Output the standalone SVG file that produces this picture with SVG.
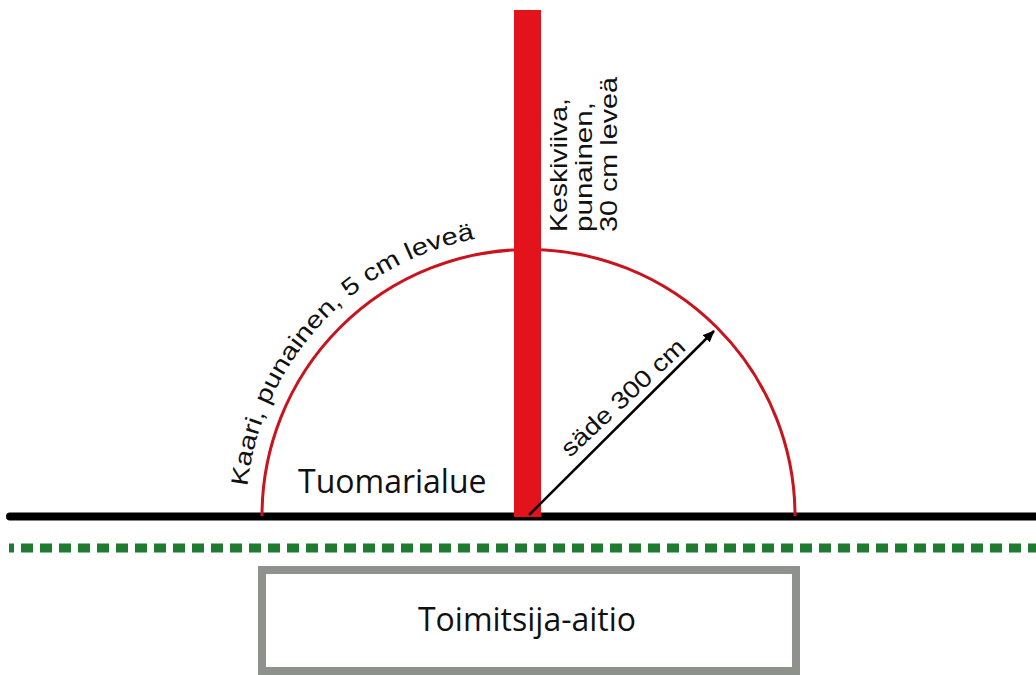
<svg xmlns="http://www.w3.org/2000/svg" width="1036" height="675" viewBox="0 0 1036 675">
<defs>
<style>
.lbl{font-family:"Liberation Sans",Arial,sans-serif;font-size:24px;fill:#111}
.big{font-family:"Open Sans","Noto Sans",sans-serif;font-size:32px;fill:#111}
</style>
<marker id="ah" markerWidth="12" markerHeight="10" refX="11" refY="5" orient="auto" markerUnits="userSpaceOnUse">
<path d="M0,0 L12,5 L0,10 Z" fill="#000"/>
</marker>
<path id="arcText" d="M 247.5 486.5 A 282 282 0 0 1 528 234"/>
</defs>
<rect width="1036" height="675" fill="#fff"/>
<g id="floor">
<line x1="10" y1="516.5" x2="1036" y2="516.5" stroke="#000" stroke-width="8" stroke-linecap="round"/>
<line x1="9" y1="548" x2="1036" y2="548" stroke="#1e7b30" stroke-width="9" stroke-dasharray="12 7" stroke-dashoffset="7"/>
</g>
<g id="arc">
<path d="M 262 516 A 266.5 266.5 0 0 1 795 516" fill="none" stroke="#c8141e" stroke-width="3"/>
<text class="lbl"><textPath href="#arcText" textLength="360" lengthAdjust="spacingAndGlyphs">Kaari, punainen, 5 cm leveä</textPath></text>
</g>
<g id="keskiviiva">
<rect x="514" y="10" width="27" height="507" fill="#e2131b"/>
<text class="lbl" transform="translate(567,232) rotate(-90)" textLength="134" lengthAdjust="spacingAndGlyphs">Keskiviiva,</text>
<text class="lbl" transform="translate(592,232) rotate(-90)" textLength="130" lengthAdjust="spacingAndGlyphs">punainen,</text>
<text class="lbl" transform="translate(617,232) rotate(-90)" textLength="155" lengthAdjust="spacingAndGlyphs">30 cm leveä</text>
</g>
<g id="connectors">
<line x1="529" y1="515" x2="714" y2="331" stroke="#000" stroke-width="2.5" marker-end="url(#ah)"/>
<text class="lbl" transform="translate(570,458) rotate(-43)" textLength="160" lengthAdjust="spacingAndGlyphs">säde 300 cm</text>
</g>
<g id="tuomarialue">
<text class="big" x="298" y="493">Tuomarialue</text>
</g>
<g id="toimitsija-aitio">
<rect x="262" y="570" width="534" height="101" fill="#fff" stroke="#8e928d" stroke-width="8"/>
<text class="big" x="527" y="631" text-anchor="middle">Toimitsija-aitio</text>
</g>
</svg>
